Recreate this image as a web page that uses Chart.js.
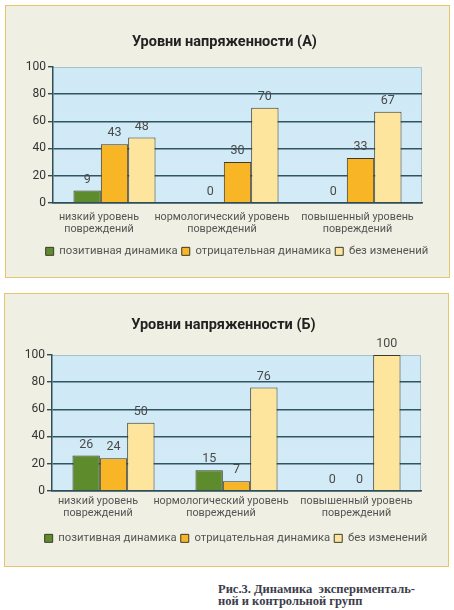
<!DOCTYPE html>
<html><head><meta charset="utf-8">
<script src="https://cdn.jsdelivr.net/npm/chart.js@4.4.0/dist/chart.umd.min.js"></script>
<style>
html,body{margin:0;padding:0;background:#fff;width:454px;height:610px;overflow:hidden;}
.box{position:absolute;background:#f0efe3;border:1.5px solid #e7c46e;box-sizing:border-box;}
.box canvas{position:absolute;left:0;top:0;}
#cap{position:absolute;left:218px;top:584px;font-family:"Liberation Serif",serif;font-weight:bold;font-size:12.5px;line-height:11.5px;color:#3b3d4a;white-space:pre;}
</style></head>
<body>
<div class="box" id="boxA" style="left:5px;top:5px;width:445px;height:273px;"><canvas id="cA"></canvas></div>
<div class="box" id="boxB" style="left:4px;top:293px;width:445px;height:274px;"><canvas id="cB"></canvas></div>
<div id="cap">Рис.3. Динамика  эксперименталь-
ной и контрольной групп</div>
<script>
const categories = [["низкий уровень","повреждений"],["нормологический уровень","повреждений"],["повышенный уровень","повреждений"]];
const seriesNames = ["позитивная динамика","отрицательная динамика","без изменений"];
const titleA = "Уровни напряженности (А)";
const positiveA = [9, 0, 0];
const negativeA = [43, 30, 33];
const unchangedA = [48, 70, 67];
const titleB = "Уровни напряженности (Б)";
const positiveB = [26, 15, 0];
const negativeB = [24, 7, 0];
const unchangedB = [50, 76, 100];
const yTicks = [0, 20, 40, 60, 80, 100];

const colors = ["#5e8b2b", "#f8b526", "#fde59e"];
const FONT = "Roboto, 'Noto Sans', sans-serif";

const bgPlugin = {
  id: 'plotBg',
  beforeDraw(chart) {
    const {ctx, chartArea: a} = chart;
    const g = ctx.createLinearGradient(0, a.top, 0, a.bottom);
    g.addColorStop(0, '#cfe9f6');
    g.addColorStop(1, '#d3ebf7');
    ctx.save();
    ctx.fillStyle = g;
    ctx.fillRect(a.left, a.top, a.right - a.left, a.bottom - a.top);
    ctx.strokeStyle = '#a9bfca';
    ctx.lineWidth = 1;
    ctx.beginPath();
    ctx.moveTo(a.left, a.top + 0.5); ctx.lineTo(a.right - 0.5, a.top + 0.5); ctx.lineTo(a.right - 0.5, a.bottom);
    ctx.stroke();
    ctx.restore();
  }
};
const labelPlugin = {
  id: 'valueLabels',
  afterDatasetsDraw(chart) {
    const {ctx} = chart;
    ctx.save();
    ctx.font = "12.5px " + FONT;
    ctx.fillStyle = '#4a4a4a';
    ctx.textAlign = 'center';
    ctx.textBaseline = 'middle';
    chart.data.datasets.forEach((ds, i) => {
      chart.getDatasetMeta(i).data.forEach((bar, j) => {
        ctx.fillText(String(ds.data[j]), bar.x, bar.y - 11);
      });
    });
    ctx.restore();
  }
};
const shiftPlugin = {
  id: 'shiftBlocks',
  afterLayout(chart) {
    if (chart.legend) { chart.legend.left += 9.5; chart.legend.right += 9.5; }
    if (chart.titleBlock) { chart.titleBlock.left -= 3; chart.titleBlock.right -= 3; }
  },
  beforeDraw(chart, args, opts) {
    const s = chart.scales.x;
    const items = s.getLabelItems(chart.chartArea);
    if (items._shifted) return;
    items.forEach((it, i) => { it.options.translation[0] += (opts.xShift[i] || 0); });
    items._shifted = true;
  }
};

function makeChart(id, title, data, titleTop, xPad, xHeight, bottomPad) {
  const cv = document.getElementById(id);
  return new Chart(cv, {
    type: 'bar',
    data: {
      labels: categories,
      datasets: data.map((d, i) => ({
        label: seriesNames[i], data: d, backgroundColor: colors[i],
        borderColor: '#3c3a2c', borderWidth: 1, borderSkipped: 'bottom',
        categoryPercentage: 0.667, barPercentage: 1
      }))
    },
    options: {
      responsive: false, animation: false, devicePixelRatio: 1,
      layout: {padding: {left: 0, right: 0, top: 0, bottom: bottomPad}},
      plugins: {
        shiftBlocks: {xShift: [-15.5, -15.5, -3]},
        title: {display: true, text: title, color: '#222', font: {family: FONT, size: 14.5, weight: 'bold', lineHeight: 1.2}, padding: {top: titleTop, bottom: 61 - titleTop - 17.4}},
        legend: {position: 'bottom', labels: {color: '#555', font: {family: FONT, size: 11.3}, boxWidth: 8, boxHeight: 8, padding: 4,
          generateLabels(chart) {
            return chart.data.datasets.map((ds, i) => ({text: ds.label, fillStyle: ds.backgroundColor, strokeStyle: '#3c3a2c', lineWidth: 1, datasetIndex: i, fontColor: '#555'}));
          }}},
        tooltip: {enabled: false}
      },
      scales: {
        x: {
          grid: {display: false, drawTicks: false},
          border: {display: true, color: '#2f4f58', width: 1.5},
          ticks: {color: '#555', font: {family: FONT, size: 10.8, lineHeight: 1.1}, padding: xPad, maxRotation: 0, autoSkip: false},
          afterFit(s) { s.height = xHeight; }
        },
        y: {
          min: 0, max: 100,
          afterBuildTicks(s) { s.ticks = yTicks.map(v => ({value: v})); },
          grid: {color: (c) => c.tick && c.tick.value === 100 ? 'rgba(0,0,0,0)' : '#2f5560', lineWidth: 1.4, drawTicks: true, tickLength: 5, tickColor: '#2f4f58'},
          border: {display: true, color: '#2f4f58', width: 1.5},
          ticks: {color: '#333', font: {family: FONT, size: 12}, padding: 2},
          afterFit(s) { s.width = 47; }
        },
        pad: {type: 'linear', position: 'right', display: true, grid: {display: false}, border: {display: false}, ticks: {display: false}, afterFit(s) { s.width = 27; }}
      }
    },
    plugins: [bgPlugin, labelPlugin, shiftPlugin]
  });
}
function size(id, w, h) { const c = document.getElementById(id); c.width = w; c.height = h; c.style.width = w + 'px'; c.style.height = h + 'px'; }
size('cA', 443, 270);
size('cB', 443, 271);
makeChart('cA', titleA, [positiveA, negativeA, unchangedA], 28, 9, 39, 9);
makeChart('cB', titleB, [positiveB, negativeB, unchangedB], 23, 5, 38, 11);
</script>
</body></html>
